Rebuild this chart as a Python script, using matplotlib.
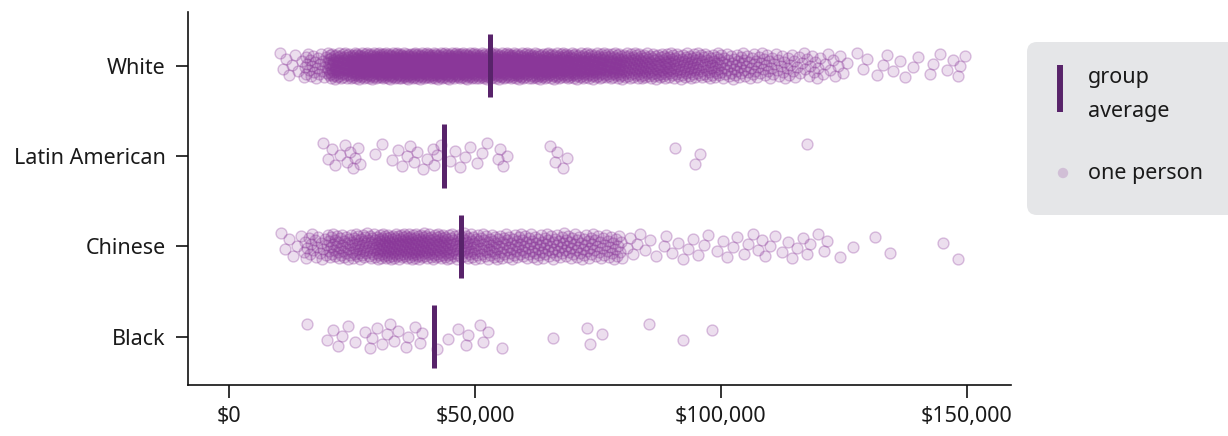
import numpy as np
import matplotlib
matplotlib.use("Agg")
import matplotlib.pyplot as plt
from matplotlib.patches import FancyBboxPatch
from matplotlib.colors import to_rgba

plt.rcParams['font.family'] = ['Noto Sans', 'DejaVu Sans']

# ---------------- data ----------------
groups = ["White", "Latin American", "Chinese", "Black"]
group_averages = [53000, 43700, 47200, 41700]

bin_width = 5000
# dense part of the White strip: number of people per $5,000 band
white_bin_starts = [10000, 15000, 20000, 25000, 30000, 35000, 40000, 45000,
                    50000, 55000, 60000, 65000, 70000, 75000, 80000, 85000,
                    90000, 95000, 100000, 105000, 110000, 115000, 120000]
white_bin_counts = [8, 25, 80, 110, 120, 120, 120, 120, 110, 110, 100, 95,
                    85, 75, 65, 58, 50, 42, 32, 26, 20, 15, 10]
white_tail = [125700, 127700, 128900, 129700, 131800, 133000, 133800, 135000,
              136500, 137500, 139100, 140100, 142600, 143200, 144600, 146000,
              147200, 148300, 148700, 149600]

chinese_bin_starts = [10000, 15000, 20000, 25000, 30000, 35000, 40000,
                      45000, 50000, 55000, 60000, 65000, 70000, 75000]
chinese_bin_counts = [6, 20, 36, 46, 64, 66, 60, 46, 38, 34, 32, 30, 28, 24]
chinese_tail = [80800, 81500, 82100, 83000, 83600, 84600, 85600, 86800,
                88400, 88900, 90100, 91200, 92300, 93300, 94300, 95400,
                96500, 97400, 99200, 100400, 101300, 102400, 103300, 104600,
                105500, 106600, 107500, 108400, 108900, 110000, 111000,
                112500, 113600, 114500, 115500, 116700, 117500, 118100,
                119800, 121000, 121500, 124300, 126900, 131400, 134400,
                145200, 148300]

latin_values = [19100, 20100, 20900, 21500, 22500, 23500, 24000, 24600,
                25200, 25600, 26200, 26600, 29600, 31000, 33100, 34300,
                35100, 36200, 36800, 37500, 38200, 39400, 40200, 41400,
                41600, 42300, 43000, 44900, 45900, 47000, 48000, 49000,
                50400, 51400, 52500, 54700, 55100, 55700, 56500, 65200,
                66300, 66700, 67900, 68700, 90700, 94700, 95800, 117500]

black_values = [15800, 19900, 21000, 22100, 22900, 24200, 25500, 27600,
                28600, 29000, 30100, 31100, 32100, 32700, 33500, 34300,
                36000, 36400, 37800, 38800, 39200, 42300, 44500, 46500,
                48200, 48600, 51000, 51600, 52600, 55500, 65900, 72800,
                73400, 75800, 85400, 92300, 98200]

x_ticks = [0, 50000, 100000, 150000]
x_tick_labels = ["$0", "$50,000", "$100,000", "$150,000"]

# ---------------- styling ----------------
POINT_COLOR = "#8a3799"
AVG_COLOR = "#58236a"
TEXT_COLOR = "#1a1a1a"
FS = 15.5
PT_SIZE = 62
FACE = to_rgba(POINT_COLOR, 0.16)
EDGE = to_rgba(POINT_COLOR, 0.30)
JITTER = 0.145


def expand_bins(starts, counts):
    vals = []
    for s, c in zip(starts, counts):
        for j in range(c):
            vals.append(s + (j + 0.5) / c * bin_width)
    return vals


group_values = [
    expand_bins(white_bin_starts, white_bin_counts) + white_tail,
    latin_values,
    expand_bins(chinese_bin_starts, chinese_bin_counts) + chinese_tail,
    black_values,
]

fig = plt.figure(figsize=(12.28, 4.36), dpi=100)
ax = fig.add_axes([188 / 1228, 1 - 385 / 436, (1011 - 188) / 1228, (385 - 12) / 436])

phi = 0.6180339887498949
for gi, vals in enumerate(group_values):
    v = np.sort(np.asarray(vals, dtype=float))
    idx = np.arange(len(v))
    offs = ((idx * phi) % 1.0 - 0.5) * 2 * JITTER
    ax.scatter(v, gi + offs, s=PT_SIZE, facecolors=FACE, edgecolors=EDGE,
               linewidths=1.0, zorder=2)
    ax.vlines(group_averages[gi], gi - 0.35, gi + 0.35, color=AVG_COLOR,
              linewidth=3.6, zorder=3)

ax.set_xlim(-8400, 159000)
ax.set_ylim(3.535, -0.595)
ax.set_yticks(range(len(groups)))
ax.set_yticklabels(groups, fontsize=FS, color=TEXT_COLOR)
ax.set_xticks(x_ticks)
ax.set_xticklabels(x_tick_labels, fontsize=FS, color=TEXT_COLOR)
for side in ["top", "right"]:
    ax.spines[side].set_visible(False)
for side in ["left", "bottom"]:
    ax.spines[side].set_linewidth(1.2)
    ax.spines[side].set_color("#111111")
ax.tick_params(axis="both", length=9, width=1.2, color="#111111")
ax.tick_params(axis="y", pad=7)
ax.tick_params(axis="x", pad=6)

# ---------------- legend panel ----------------
ov = fig.add_axes([0, 0, 1, 1], zorder=5)
ov.set_xlim(0, 1228)
ov.set_ylim(436, 0)
ov.axis("off")
ov.add_patch(FancyBboxPatch((1037, 52), 220, 153, boxstyle="round,pad=10",
                            fc="#e5e6e8", ec="none"))
ov.plot([1059.7, 1059.7], [65, 111.7], color=AVG_COLOR, lw=4.3,
        solid_capstyle="butt")
ov.text(1088, 83, "group", fontsize=FS, va="baseline", ha="left", color=TEXT_COLOR)
ov.text(1088, 117, "average", fontsize=FS, va="baseline", ha="left", color=TEXT_COLOR)
ov.scatter([1063], [173], s=PT_SIZE * 0.9, facecolors=to_rgba(POINT_COLOR, 0.22),
           edgecolors="none")
ov.text(1088, 178.5, "one person", fontsize=FS, va="baseline", ha="left", color=TEXT_COLOR)

fig.savefig("out.png", dpi=100)
